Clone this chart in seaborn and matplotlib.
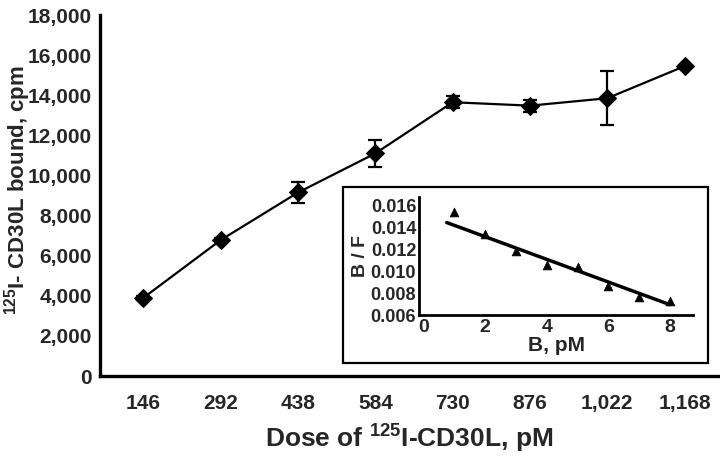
import matplotlib
matplotlib.use("Agg")
import matplotlib.pyplot as plt
from matplotlib.patches import Rectangle
import numpy as np
import pandas as pd
import seaborn as sns

# ---- data ----
dose = [146, 292, 438, 584, 730, 876, 1022, 1168]
dose_labels = ["146", "292", "438", "584", "730", "876", "1,022", "1,168"]
bound = [3900, 6780, 9150, 11100, 13650, 13480, 13850, 15450]
bound_err = [80, 120, 520, 670, 300, 300, 1350, 80]
y_ticks = [0, 2000, 4000, 6000, 8000, 10000, 12000, 14000, 16000, 18000]
y_tick_labels = ["0", "2,000", "4,000", "6,000", "8,000", "10,000", "12,000",
                 "14,000", "16,000", "18,000"]

# Scatchard inset
b_pm = [1, 2, 3, 4, 5, 6, 7, 8]
b_over_f = [0.0154, 0.0134, 0.0118, 0.01055, 0.0104, 0.0086, 0.0076, 0.0073]
fit_slope = -0.00103
fit_intercept = 0.01518
fit_range = [0.75, 8.0]
inset_xticks = [0, 2, 4, 6, 8]
inset_yticks = [0.006, 0.008, 0.010, 0.012, 0.014, 0.016]

sns.set_style("white")
plt.rcParams["font.family"] = ["Liberation Sans", "DejaVu Sans"]
plt.rcParams["font.weight"] = "bold"
plt.rcParams["axes.labelweight"] = "bold"
plt.rcParams["mathtext.fontset"] = "custom"
plt.rcParams["mathtext.rm"] = "Liberation Sans:bold"
plt.rcParams["mathtext.it"] = "Liberation Sans:bold"
plt.rcParams["mathtext.bf"] = "Liberation Sans:bold"
plt.rcParams["mathtext.default"] = "rm"

fig = plt.figure(figsize=(7.2, 4.58), dpi=100)
ax = fig.add_axes([100 / 720, 1 - 376 / 458, 618 / 720, (376 - 15) / 458])

df = pd.DataFrame({"dose": dose, "bound": bound})
sns.lineplot(data=df, x="dose", y="bound", marker="D", markersize=9,
             color="black", linewidth=1.6, markeredgecolor="black", ax=ax)
ax.errorbar(dose, bound, yerr=bound_err, fmt="none", ecolor="black",
            elinewidth=1.6, capsize=5, capthick=1.6)

ax.set_xlim(64, 1231)
ax.set_ylim(0, 18000)
ax.set_xticks(dose)
ax.set_xticklabels(dose_labels)
ax.set_yticks(y_ticks)
ax.set_yticklabels(y_tick_labels)
for s in ["top", "right"]:
    ax.spines[s].set_visible(False)
for s in ["left", "bottom"]:
    ax.spines[s].set_linewidth(2.4)
    ax.spines[s].set_color("black")
ax.tick_params(axis="x", labelsize=15, length=5, width=2.4, pad=8, direction="out")
ax.tick_params(axis="y", labelsize=15, length=5, width=2.4, pad=1, direction="out")
ax.set_xlabel("Dose of $^{125}$I-CD30L, pM", fontsize=19, labelpad=7)
ax.set_ylabel("$^{125}$I- CD30L bound, cpm", fontsize=16)
ax.yaxis.set_label_coords(-0.108, 0.515)

# inset frame
fig.add_artist(Rectangle((343 / 720, 1 - 363 / 458), 365 / 720, 176 / 458,
                         transform=fig.transFigure, fill=False,
                         edgecolor="black", linewidth=1.6))

ins = fig.add_axes([419 / 720, 1 - 315 / 458, 274 / 720, 118 / 458])
ins.set_facecolor("none")
sns.scatterplot(x=b_pm, y=b_over_f, marker="^", s=40, color="black",
                edgecolor="black", ax=ins)
fx = np.array(fit_range)
ins.plot(fx, fit_intercept + fit_slope * fx, color="black", linewidth=2.5)
ins.set_xlim(-0.15, 8.75)
ins.set_ylim(0.006, 0.01673)
ins.set_xticks(inset_xticks)
ins.set_yticks(inset_yticks)
ins.set_yticklabels([f"{v:.3f}" for v in inset_yticks])
for s in ["top", "right"]:
    ins.spines[s].set_visible(False)
for s in ["left", "bottom"]:
    ins.spines[s].set_linewidth(2)
    ins.spines[s].set_color("black")
ins.tick_params(axis="y", labelsize=13, length=0, pad=2)
ins.tick_params(axis="x", labelsize=14, length=0, pad=3)
ins.set_xlabel("B, pM", fontsize=15, labelpad=0)
ins.set_ylabel("B / F", fontsize=14, labelpad=1)

fig.savefig("out.png", dpi=100)
